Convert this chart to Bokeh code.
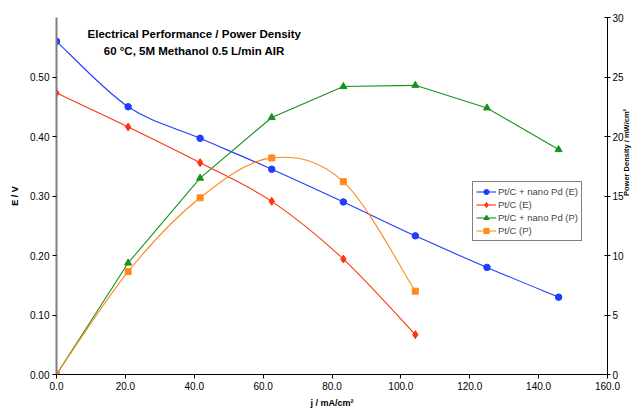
import numpy as np
from bokeh.plotting import figure
from bokeh.models import (Range1d, LinearAxis, SingleIntervalTicker, NumeralTickFormatter,
                          Label, Legend, LegendItem, ColumnDataSource)
from bokeh.embed import file_html
from bokeh.resources import INLINE

# ---- data ----
j_ptpd = [0.0, 20.8, 41.7, 62.5, 83.3, 104.2, 125.0, 145.8]
E_ptpd = [0.560, 0.450, 0.397, 0.345, 0.290, 0.233, 0.180, 0.130]
P_ptpd = [0.0, 9.37, 16.5, 21.6, 24.2, 24.3, 22.4, 18.9]

j_pt = [0.0, 20.8, 41.7, 62.5, 83.3, 104.2]
E_pt = [0.473, 0.416, 0.356, 0.291, 0.194, 0.067]
P_pt = [0.0, 8.65, 14.85, 18.2, 16.2, 7.0]

labels = ["Pt/C + nano Pd (E)", "Pt/C (E)", "Pt/C + nano Pd (P)", "Pt/C (P)"]
title1 = "Electrical Performance / Power Density"
title2 = "60 \u00b0C, 5M Methanol 0.5 L/min AIR"
right_title = "Power Density / mW/cm\u00b2"

BLUE = "#1f3dff"
RED = "#ff3311"
GREEN = "#17911b"
ORANGE = "#ff8a1c"
FONT = "Liberation Sans"


def smooth_source(xs, ys):
    """Bezier control points (Catmull-Rom style, like a spreadsheet 'smoothed line')."""
    x = np.asarray(xs, float)
    y = np.asarray(ys, float)
    n = len(x)
    xp = np.concatenate([[x[0]], x, [x[-1]]])
    yp = np.concatenate([[y[0]], y, [y[-1]]])
    return ColumnDataSource(dict(
        x0=xp[1:n], y0=yp[1:n], x1=xp[2:n + 1], y1=yp[2:n + 1],
        cx0=xp[1:n] + (xp[2:n + 1] - xp[0:n - 1]) / 6,
        cy0=yp[1:n] + (yp[2:n + 1] - yp[0:n - 1]) / 6,
        cx1=xp[2:n + 1] - (xp[3:n + 2] - xp[1:n]) / 6,
        cy1=yp[2:n + 1] - (yp[3:n + 2] - yp[1:n]) / 6,
    ))


p = figure(width=638, height=412, x_range=Range1d(0, 160), y_range=Range1d(0, 0.6),
           output_backend="svg", toolbar_location=None,
           min_border_left=56, min_border_right=10, min_border_top=17, min_border_bottom=38)
p.extra_y_ranges = {"p": Range1d(0, 30)}
p.grid.visible = False
p.outline_line_color = None
p.background_fill_color = "white"

# bottom axis
xa = p.xaxis[0]
xa.ticker = SingleIntervalTicker(interval=20, num_minor_ticks=0)
xa.formatter = NumeralTickFormatter(format="0.0")
xa.axis_label = "j / mA/cm\u00b2"

# left axis
ya = p.yaxis[0]
ya.ticker = SingleIntervalTicker(interval=0.1, num_minor_ticks=0)
ya.formatter = NumeralTickFormatter(format="0.00")
ya.axis_label = "E / V"
ya.axis_line_color = "#7f7f7f"
ya.axis_line_width = 2

# right axis
ra = LinearAxis(y_range_name="p", axis_label=right_title)
ra.ticker = SingleIntervalTicker(interval=5, num_minor_ticks=0)
p.add_layout(ra, "right")
try:
    ra.axis_label_orientation = np.pi / 2   # read bottom-to-top like the reference
except AttributeError:
    pass

for ax in (xa, ya, ra):
    ax.minor_tick_line_color = None
    ax.major_tick_in = 0
    ax.major_tick_out = 4
    ax.major_label_text_font = FONT
    ax.major_label_text_font_size = "10px"
    ax.major_label_text_color = "black"
    ax.axis_label_text_font = FONT
    ax.axis_label_text_font_style = "bold"
    ax.axis_label_text_font_size = "9px"
    ax.axis_label_text_color = "black"
    ax.major_label_standoff = 3
    ax.axis_label_standoff = 6
ra.major_tick_in = 3
ra.major_tick_out = 3
ra.major_label_standoff = 2
ra.axis_label_text_font_size = "7.5px"
ra.axis_label_standoff = 0
ra.axis_label_text_align = "center"
ra.axis_label_text_baseline = "middle"
ya.axis_label_standoff = 7
xa.axis_label_standoff = 5

LW = 1.1
# series
b1 = p.bezier(x0="x0", y0="y0", x1="x1", y1="y1", cx0="cx0", cy0="cy0", cx1="cx1", cy1="cy1",
              source=smooth_source(j_ptpd, E_ptpd), line_color=BLUE, line_width=LW)
s1 = p.scatter(j_ptpd, E_ptpd, marker="circle", size=6.5, color=BLUE)

b2 = p.bezier(x0="x0", y0="y0", x1="x1", y1="y1", cx0="cx0", cy0="cy0", cx1="cx1", cy1="cy1",
              source=smooth_source(j_pt, E_pt), line_color=RED, line_width=LW)
s2 = p.scatter(j_pt, E_pt, marker="diamond", size=8, color=RED)

l3 = p.line(j_ptpd, P_ptpd, line_color=GREEN, line_width=LW, y_range_name="p")
s3 = p.scatter(j_ptpd, P_ptpd, marker="triangle", size=7, color=GREEN, y_range_name="p")

b4 = p.bezier(x0="x0", y0="y0", x1="x1", y1="y1", cx0="cx0", cy0="cy0", cx1="cx1", cy1="cy1",
              source=smooth_source(j_pt, P_pt), line_color=ORANGE, line_width=LW, y_range_name="p")
s4 = p.scatter(j_pt, P_pt, marker="square", size=6, color=ORANGE, y_range_name="p")

legend = Legend(items=[
    LegendItem(label=labels[0], renderers=[b1, s1]),
    LegendItem(label=labels[1], renderers=[b2, s2]),
    LegendItem(label=labels[2], renderers=[l3, s3]),
    LegendItem(label=labels[3], renderers=[b4, s4]),
], location=(416, 133))
legend.border_line_color = "black"
legend.border_line_width = 1
legend.background_fill_color = "white"
legend.background_fill_alpha = 1
legend.label_text_font = FONT
legend.label_text_font_size = "9.5px"
legend.label_height = 13
legend.glyph_height = 13
legend.glyph_width = 20
legend.label_standoff = 2
legend.padding = 3
legend.spacing = 0
legend.margin = 0
p.add_layout(legend)

for txt, yy in ((title1, 0.572), (title2, 0.543)):
    p.add_layout(Label(x=40, y=yy, text=txt, text_align="center", text_baseline="middle",
                       text_font=FONT, text_font_style="bold", text_font_size="11.5px",
                       text_color="black"))

open("out.html", "w").write(file_html(p, INLINE))
